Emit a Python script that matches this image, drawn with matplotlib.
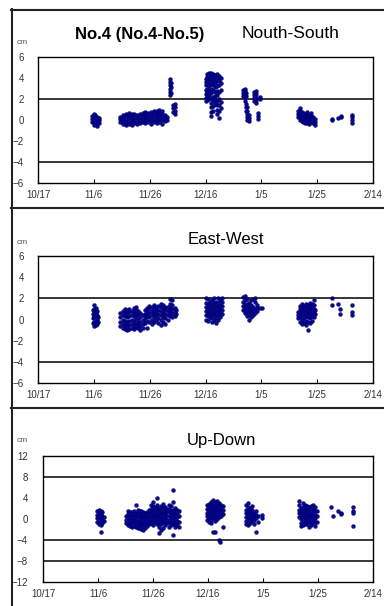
import matplotlib
matplotlib.use("Agg")
import matplotlib.pyplot as plt
from matplotlib.lines import Line2D

plt.rcParams['font.family'] = ['Liberation Sans', 'DejaVu Sans']

# x positions are days after 10/17
tick_days = [0, 20, 40, 60, 80, 100, 120]
tick_labels = ["10/17", "11/6", "11/26", "12/16", "1/5", "1/25", "2/14"]

# North-South readings: (day, [values in cm])
ns_obs = [
    (19.5, [-0.2, 0.1, 0.4]), (20.0, [-0.5, -0.2, 0.1, 0.4, 0.6]),
    (20.5, [-0.4, -0.1, 0.2, 0.5]), (21.0, [-0.6, -0.3, 0.0, 0.3]),
    (21.7, [-0.3, 0.0, 0.2]),
    (29.5, [-0.2, 0.1, 0.3]), (30.5, [-0.4, -0.1, 0.2, 0.5]),
    (31.5, [-0.5, -0.2, 0.1, 0.4, 0.6]), (32.5, [-0.4, -0.1, 0.2, 0.5, 0.7]),
    (33.5, [-0.5, -0.2, 0.1, 0.4, 0.6]), (34.5, [-0.3, 0.0, 0.3, 0.6]),
    (35.5, [-0.4, -0.1, 0.2, 0.5]), (36.5, [-0.3, 0.0, 0.3, 0.6]),
    (37.5, [-0.2, 0.1, 0.4, 0.7]), (38.5, [-0.3, 0.0, 0.3, 0.6, 0.8]),
    (39.5, [-0.2, 0.1, 0.4, 0.7]), (40.5, [-0.4, -0.1, 0.2, 0.5, 0.8]),
    (41.5, [-0.2, 0.1, 0.4, 0.7, 0.9]), (42.5, [-0.3, 0.0, 0.3, 0.6, 0.9]),
    (43.5, [-0.2, 0.1, 0.4, 0.7, 1.0]), (44.5, [-0.4, 0.0, 0.3, 0.6, 0.9]),
    (45.5, [-0.1, 0.2, 0.5]), (46.2, [0.0, 0.3]),
    (47.2, [2.4, 2.7, 3.0, 3.3, 3.6, 3.9]), (47.6, [2.6, 3.1, 3.5]),
    (48.5, [0.8, 1.1, 1.4]), (49.2, [0.6, 0.9, 1.2, 1.5]),
    (60.0, [1.8, 2.1, 2.5, 2.9, 3.3, 3.6, 3.9]),
    (60.6, [1.9, 2.3, 2.7, 3.0, 3.4, 3.8, 4.1, 4.4]),
    (61.3, [2.0, 2.4, 2.8, 3.2, 3.5, 3.9, 4.3, 4.5]),
    (62.0, [0.4, 0.8, 1.2, 1.6, 2.1, 2.6, 3.0, 3.4, 3.8, 4.2, 4.5]),
    (62.7, [0.9, 1.3, 1.8, 2.2, 2.9, 3.3, 3.7, 4.1, 4.4]),
    (63.4, [1.5, 1.9, 2.3, 2.7, 3.1, 3.5, 3.9, 4.3]),
    (64.1, [0.6, 1.0, 1.4, 1.8, 2.4, 2.8, 3.2, 3.7, 4.1, 4.4]),
    (64.8, [0.2, 0.9, 1.4, 2.0, 2.7, 3.3, 3.8, 4.2]),
    (65.5, [1.1, 1.7, 2.9, 3.5, 4.0]),
    (73.5, [2.3, 2.6, 2.9]), (74.0, [1.8, 2.2, 2.5, 2.8, 3.0]),
    (74.5, [0.9, 1.2, 1.5, 2.3, 2.6]), (75.0, [0.0, 0.3, 0.6, 0.9, 1.2]),
    (75.5, [-0.1, 0.2, 0.5]), (77.5, [1.8, 2.1, 2.4, 2.7]),
    (78.2, [1.6, 1.9, 2.2, 2.5, 2.8]), (78.8, [0.1, 0.4, 0.7]),
    (79.6, [2.0, 2.2]),
    (93.0, [0.3, 0.6, 0.9]), (93.7, [0.0, 0.3, 0.6, 0.9, 1.1]),
    (94.4, [-0.1, 0.2, 0.5, 0.8]), (95.1, [-0.2, 0.1, 0.4, 0.7]),
    (95.8, [-0.3, 0.0, 0.3, 0.6]), (96.5, [-0.3, 0.0, 0.3, 0.6, 0.8]),
    (97.2, [-0.4, -0.1, 0.2, 0.5]), (97.9, [-0.2, 0.1, 0.4, 0.7]),
    (98.6, [-0.3, 0.0, 0.3]), (99.3, [-0.5, -0.2, 0.1]),
    (105.3, [0.0, 0.1]), (107.5, [0.2]), (108.5, [0.3, 0.4]),
    (112.6, [-0.3, 0.0, 0.3, 0.5]),
]

# East-West readings
ew_obs = [
    (19.6, [-0.3, 0.1, 0.5, 0.9]), (20.1, [-0.6, -0.2, 0.2, 0.6, 1.0, 1.4]),
    (20.6, [-0.5, -0.1, 0.3, 0.7, 1.1]), (21.1, [-0.4, 0.0, 0.4, 0.8]),
    (21.6, [-0.2, 0.2]),
    (29.5, [-0.6, -0.2, 0.2, 0.6]), (30.3, [-0.8, -0.4, 0.0, 0.4, 0.8]),
    (31.1, [-0.9, -0.5, -0.1, 0.3, 0.7, 1.0]), (31.9, [-1.0, -0.6, -0.2, 0.2, 0.6, 0.9]),
    (32.7, [-0.9, -0.5, -0.1, 0.3, 0.7, 1.0]), (33.5, [-0.8, -0.4, 0.0, 0.4, 0.8]),
    (34.3, [-0.9, -0.5, -0.1, 0.3, 0.7, 1.1]), (35.1, [-0.7, -0.3, 0.1, 0.5, 0.9, 1.2]),
    (35.9, [-0.8, -0.4, 0.0, 0.4, 0.8]), (36.7, [-1.0, -0.6, -0.2, 0.2, 0.6]),
    (37.5, [-0.8, -0.4, 0.0, 0.4]),
    (38.3, [-0.3, 0.1, 0.5, 0.9]), (39.1, [-0.8, -0.1, 0.3, 0.7, 1.1]),
    (39.9, [-0.2, 0.2, 0.6, 1.0, 1.3]), (40.7, [-0.4, 0.0, 0.4, 0.8, 1.2]),
    (41.5, [-0.2, 0.2, 0.6, 1.0, 1.4]), (42.3, [0.0, 0.4, 0.8, 1.2]),
    (43.1, [-0.3, 0.1, 0.5, 0.9, 1.3]), (43.9, [-0.5, 0.0, 0.4, 0.8, 1.2, 1.5]),
    (44.7, [-0.2, 0.2, 0.6, 1.0, 1.4]), (45.5, [-0.4, 0.1, 0.5, 0.9, 1.2]),
    (46.5, [0.0, 0.4, 0.8, 1.2]), (47.3, [0.3, 0.7, 1.1, 1.5, 1.9]),
    (48.1, [0.2, 0.6, 1.0, 1.4, 1.8]), (48.9, [0.3, 0.7, 1.1]),
    (49.6, [0.5, 0.9]),
    (60.2, [0.0, 0.4, 0.8, 1.2, 1.6, 2.0]), (60.9, [-0.1, 0.3, 0.7, 1.1, 1.5, 1.9]),
    (61.6, [0.1, 0.5, 0.9, 1.3, 1.7]), (62.3, [-0.2, 0.2, 0.6, 1.0, 1.4, 1.8]),
    (63.0, [0.0, 0.4, 0.8, 1.2, 1.6, 2.0]), (63.7, [-0.3, 0.1, 0.5, 0.9, 1.3, 1.7]),
    (64.4, [0.0, 0.4, 0.8, 1.2, 1.6, 2.0]), (65.1, [0.2, 0.6, 1.0, 1.4, 1.8]),
    (65.8, [0.5, 0.9, 1.3, 1.7, 2.0]),
    (73.6, [0.9, 1.3, 1.7, 2.1]), (74.3, [0.6, 1.0, 1.4, 1.8, 2.2]),
    (75.0, [0.3, 0.7, 1.1, 1.5, 1.9]), (75.7, [0.0, 0.4, 0.8, 1.2, 1.6]),
    (76.4, [0.2, 0.6, 1.0, 1.4, 1.8]), (77.1, [0.4, 0.8, 1.2, 1.9]),
    (77.8, [0.6, 1.0, 1.7, 2.0]), (78.6, [0.8, 1.1, 1.4]),
    (79.5, [1.1]), (80.3, [1.1]),
    (93.1, [0.1, 0.4, 0.7]), (93.8, [-0.2, 0.2, 0.6, 1.0, 1.3]),
    (94.5, [-0.4, 0.0, 0.4, 0.8, 1.2, 1.5]), (95.2, [-0.3, 0.1, 0.5, 0.9, 1.3]),
    (95.9, [-0.5, -0.1, 0.3, 0.7, 1.1, 1.5]), (96.6, [-1.0, -0.2, 0.2, 0.6, 1.0, 1.4]),
    (97.3, [-0.3, 0.1, 0.5, 0.9, 1.3, 1.6]), (98.0, [-0.1, 0.3, 0.7, 1.1, 1.5]),
    (98.7, [0.2, 0.6, 1.0, 1.4, 1.8]), (99.3, [0.5, 0.9]),
    (105.3, [2.0, 1.4]), (107.5, [1.5]), (108.2, [1.0, 0.5]),
    (112.5, [1.4, 0.7, 0.4]),
]

# Up-Down readings
ud_obs = [
    (19.8, [-0.6, 0.1, 0.8, 1.5]), (20.4, [-1.0, -0.3, 0.4, 1.1, 1.8]),
    (21.0, [-1.2, -0.5, 0.2, 0.9, 1.6]), (21.6, [-0.8, -0.1, 0.6, 1.3]),
    (22.2, [-0.4, 0.3]), (21.2, [-2.5]),
    (30.2, [-0.8, -0.1, 0.6]), (30.9, [-1.2, -0.5, 0.2, 0.9, 1.5]),
    (31.6, [-1.4, -0.7, 0.0, 0.7, 1.4]), (32.3, [-1.5, -0.8, -0.1, 0.6, 1.3]),
    (33.0, [-1.3, -0.6, 0.1, 0.8, 1.5]), (33.7, [-1.6, -0.9, -0.2, 0.5, 1.2, 2.7]),
    (34.4, [-1.7, -1.0, -0.3, 0.4, 1.1, 1.7]), (35.1, [-1.8, -1.1, -0.4, 0.3, 1.0, 1.6]),
    (35.8, [-1.9, -1.2, -0.5, 0.2, 0.9, 1.5]), (36.5, [-2.0, -1.3, -0.6, 0.1, 0.8, 1.4]),
    (37.2, [-1.7, -1.0, -0.3, 0.4, 1.1]), (37.9, [-1.4, -0.7, 0.0, 0.7, 1.4]),
    (38.6, [-1.0, -0.3, 0.4, 1.1, 1.8]), (39.3, [-0.8, -0.1, 0.6, 1.3, 2.0, 2.6]),
    (40.0, [-1.1, -0.4, 0.3, 1.0, 1.7, 2.4, 3.2]), (40.7, [-0.6, 0.1, 0.8, 1.5, 2.2]),
    (41.4, [-0.9, -0.2, 0.5, 1.2, 1.9, 2.6, 4.0]),
    (42.1, [-2.6, -1.5, -0.7, 0.0, 0.7, 1.4, 2.1]),
    (42.8, [-2.0, -1.0, -0.3, 0.4, 1.1, 1.8, 2.5]),
    (43.5, [-1.7, -0.5, 0.2, 0.9, 1.6, 2.3, 2.9]),
    (44.2, [-1.2, -0.5, 0.2, 0.9, 1.6, 2.2]), (44.9, [-0.8, -0.1, 0.6, 1.3, 2.0]),
    (45.7, [-1.5, -0.8, -0.1, 0.6, 1.3, 2.0, 2.6]),
    (46.4, [-1.2, -0.5, 0.2, 0.9, 1.6, 2.4]),
    (47.2, [-3.0, -1.0, -0.3, 0.4, 1.1, 1.8, 3.3, 5.5]),
    (47.9, [-1.5, -0.7, 0.0, 0.7, 1.4, 2.1]), (48.6, [-1.2, -0.4, 0.3, 1.0, 1.7]),
    (49.4, [-1.6, -0.5, 0.5, 1.5]),
    (59.8, [-0.2, 0.5, 1.2, 1.9, 2.6]), (60.5, [-0.6, 0.1, 0.8, 1.5, 2.2, 2.9]),
    (61.2, [-0.8, -0.1, 0.6, 1.3, 2.0, 2.7, 3.3]),
    (61.9, [-2.5, 0.2, 0.9, 1.6, 2.3, 3.0, 3.6]),
    (62.6, [-2.5, -0.3, 0.4, 1.1, 1.8, 2.5, 3.2]),
    (63.3, [0.0, 0.7, 1.4, 2.1, 2.8, 3.4]), (64.0, [-4.0, 0.3, 1.0, 1.7, 2.4, 3.1]),
    (64.5, [-4.4]), (64.7, [0.6, 1.3, 2.0, 2.7]), (65.5, [-1.5, 1.0, 1.8, 2.5]),
    (73.8, [-1.0, -0.3, 0.4, 1.1, 1.8, 2.6]), (74.5, [-1.2, -0.5, 0.2, 0.9, 1.6, 2.3, 3.0]),
    (75.2, [-0.7, 0.0, 0.7, 1.4, 2.1]), (75.9, [-0.4, 0.3, 1.0, 1.7, 2.4]),
    (76.6, [-0.9, -0.2, 0.5, 1.2]), (77.3, [-2.5, 0.1, 0.8, 1.5]),
    (78.0, [-0.5, 0.6]), (79.6, [0.2, 0.8]),
    (93.2, [0.4, 1.1, 1.8, 2.6, 3.5]), (93.9, [-1.4, -0.7, 0.0, 0.7, 1.4, 2.1]),
    (94.6, [-1.2, -0.5, 0.2, 0.9, 1.6, 2.3, 3.0]), (95.3, [-0.9, -0.2, 0.5, 1.2, 1.9, 2.6]),
    (96.0, [-1.0, -0.3, 0.4, 1.1, 1.8, 2.5]), (96.7, [-1.5, -0.6, 0.1, 0.8, 1.5, 2.2]),
    (97.4, [-1.1, -0.4, 0.3, 1.0, 1.7, 2.4]), (98.1, [-0.8, -0.1, 0.6, 1.3, 2.0, 2.7]),
    (98.8, [-1.3, -0.6, 0.1, 0.8, 1.5, 2.2]), (99.5, [-0.5, 0.5, 1.5]),
    (104.9, [2.3]), (105.4, [0.6]), (107.2, [1.5]), (108.3, [1.2, 1.0]),
    (112.6, [2.3, 1.5, 1.1, -1.4]),
]

ns_ticks = [6, 4, 2, 0, -2, -4, -6]
ud_ticks = [12, 8, 4, 0, -4, -8, -12]
ns_lines = [2, -4]
ud_lines = [8, -4, -8]

W, H = 384, 606
fig = plt.figure(figsize=(W / 100, H / 100), dpi=100)


def fx(px):
    return px / W


def fy(py):
    return 1 - py / H


def expand(obs):
    xs, ys = [], []
    for d, vals in obs:
        for v in vals:
            xs.append(d)
            ys.append(v)
    return xs, ys


panels = [
    (ns_obs, ns_ticks, ns_lines, (38, 57, 373, 183), 10),
    (ew_obs, ns_ticks, ns_lines, (38, 256, 373, 383), 10),
    (ud_obs, ud_ticks, ud_lines, (43, 456, 373, 582), 11),
]

for obs, yt, hl, (l, t, r, b), pad in panels:
    ax = fig.add_axes([fx(l), fy(b), (r - l) / W, (b - t) / H])
    xs, ys = expand(obs)
    ax.plot(xs, ys, 'o', color='#000080', ms=3.2, mew=0, alpha=0.95, zorder=3)
    for v in hl:
        ax.axhline(v, color='black', lw=1.1, zorder=1)
    ax.set_xlim(tick_days[0], tick_days[-1])
    ax.set_ylim(yt[-1], yt[0])
    ax.set_xticks(tick_days)
    ax.set_xticklabels(tick_labels, fontsize=7, color='#333333')
    ax.set_yticks(yt)
    ax.set_yticklabels([str(v).replace('-', '\u2212') for v in yt], fontsize=7,
                       color='#333333')
    ax.tick_params(axis='x', direction='in', length=3, width=0.8, pad=5)
    ax.tick_params(axis='y', length=0, pad=pad)
    for s in ax.spines.values():
        s.set_linewidth(1.0)
        s.set_color('black')

# texts
fig.text(fx(75), fy(34), "No.4 (No.4-No.5)", fontsize=12, fontweight='bold',
         ha='left', va='center')
fig.text(fx(242), fy(34), "Nouth-South", fontsize=12.5, ha='left', va='center')
fig.text(fx(226), fy(240), "East-West", fontsize=12, ha='center', va='center')
fig.text(fx(221), fy(440), "Up-Down", fontsize=12, ha='center', va='center')
for yy in (42, 242, 440):
    fig.text(fx(17), fy(yy), "cm", fontsize=6, color='#555555', ha='left',
             va='center')

# outer frame and separators
lc = '#222222'
fig.add_artist(Line2D([fx(11.5), fx(11.5)], [fy(9), fy(606)], color=lc, lw=1.5))
for yy in (9.5, 207.5, 408):
    fig.add_artist(Line2D([fx(11), fx(384)], [fy(yy), fy(yy)], color=lc, lw=1.5))

fig.savefig("out.png", dpi=100)
